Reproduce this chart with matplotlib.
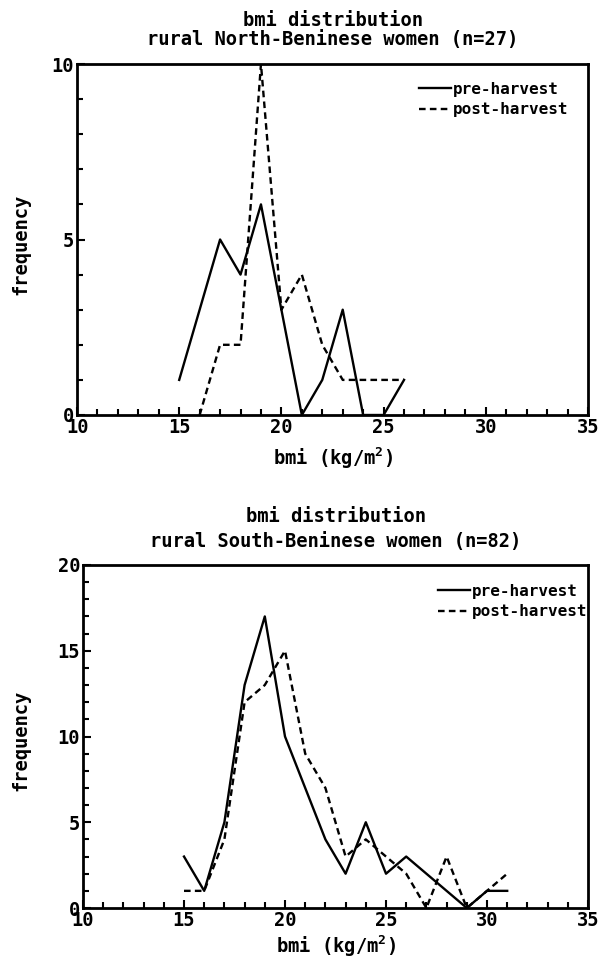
import numpy as np
import matplotlib
matplotlib.use('Agg')
import matplotlib.pyplot as plt
from matplotlib.ticker import MultipleLocator

# north panel (n=27)
north_bmi = [15, 16, 17, 18, 19, 20, 21, 22, 23, 24, 25, 26]
north_pre = [1, 3, 5, 4, 6, 3, 0, 1, 3, 0, 0, 1]
north_post_bmi = [16, 17, 18, 19, 20, 21, 22, 23, 24, 25, 26]
north_post = [0, 2, 2, 10, 3, 4, 2, 1, 1, 1, 1]

# south panel (n=82)
south_bmi = [15, 16, 17, 18, 19, 20, 21, 22, 23, 24, 25, 26, 27, 28, 29, 30, 31]
south_pre = [3, 1, 5, 13, 17, 10, 7, 4, 2, 5, 2, 3, 2, 1, 0, 1, 1]
south_post = [1, 1, 4, 12, 13, 15, 9, 7, 3, 4, 3, 2, 0, 3, 0, 1, 2]

x_ticks = [10, 15, 20, 25, 30, 35]
series_labels = ['pre-harvest', 'post-harvest']

W, H = 602, 959
plt.rcParams['font.family'] = ['DejaVu Sans Mono']
plt.rcParams['font.weight'] = 'bold'
fs = 13.5

fig = plt.figure(figsize=(W / 100, H / 100), dpi=100)


def px_axes(left, top, right, bottom):
    return fig.add_axes([left / W, 1 - bottom / H, (right - left) / W, (bottom - top) / H])


def style(ax, ymax, ystep):
    ax.set_xlim(10, 35)
    ax.set_ylim(0, ymax)
    ax.set_xticks(x_ticks)
    ax.xaxis.set_minor_locator(MultipleLocator(1))
    ax.yaxis.set_major_locator(MultipleLocator(ystep))
    ax.yaxis.set_minor_locator(MultipleLocator(1))
    ax.tick_params(which='both', direction='in', top=False, right=False,
                   labelsize=fs, width=1.5, pad=2)
    ax.tick_params(which='major', length=6)
    ax.tick_params(which='minor', length=4)
    for s in ax.spines.values():
        s.set_linewidth(2)


def draw(ax, xs_pre, pre, xs_post, post, lx, ly):
    ax.plot(xs_pre, pre, color='black', lw=1.7, label=series_labels[0])
    ax.plot(xs_post, post, color='black', lw=1.7, linestyle=(0, (2.8, 1.8)),
            label=series_labels[1])
    ax.legend(loc='upper left', bbox_to_anchor=(lx, ly), frameon=False,
              fontsize=11.5, handlelength=2.0, handletextpad=0.1,
              borderpad=0, borderaxespad=0, labelspacing=0.35)


ax1 = px_axes(77, 64, 588, 415)
style(ax1, 10, 5)
draw(ax1, north_bmi, north_pre, north_post_bmi, north_post, 0.669, 0.95)

ax2 = px_axes(83, 565, 588, 908)
style(ax2, 20, 5)
draw(ax2, south_bmi, south_pre, south_bmi, south_post, 0.703, 0.945)

# titles and axis labels
fig.text(333 / W, 1 - 21 / H, 'bmi distribution', ha='center', va='center', fontsize=fs)
fig.text(333 / W, 1 - 39 / H, 'rural North-Beninese women (n=27)', ha='center', va='center', fontsize=fs)
fig.text(336 / W, 1 - 517 / H, 'bmi distribution', ha='center', va='center', fontsize=fs)
fig.text(336 / W, 1 - 542 / H, 'rural South-Beninese women (n=82)', ha='center', va='center', fontsize=fs)

xlab = r'bmi (kg/m$^\mathregular{2}$)'
fig.text(333 / W, 1 - 458 / H, xlab, ha='center', va='center', fontsize=fs)
fig.text(336 / W, 1 - 946 / H, xlab, ha='center', va='center', fontsize=fs)
fig.text(21 / W, 1 - 244 / H, 'frequency', ha='center', va='center', rotation=90, fontsize=fs)
fig.text(21 / W, 1 - 740 / H, 'frequency', ha='center', va='center', rotation=90, fontsize=fs)

fig.savefig('out.png', dpi=100)
